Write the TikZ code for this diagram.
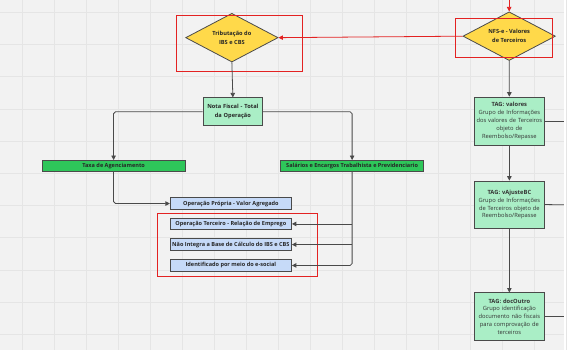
\documentclass[tikz,border=0pt]{standalone}
\usepackage{fontspec}
\setmainfont{Open Sans}
\usetikzlibrary{shapes.geometric,arrows.meta}
\definecolor{bgc}{HTML}{F2F2F2}
\definecolor{gridc}{HTML}{E5E5E5}
\definecolor{yel}{HTML}{FFD94A}
\definecolor{mint}{HTML}{AAEEC6}
\definecolor{grn}{HTML}{2EC65A}
\definecolor{blu}{HTML}{C6DAF8}
\definecolor{redc}{HTML}{E32222}
\definecolor{edgec}{HTML}{4A4A4A}
\begin{document}
\begin{tikzpicture}[x=1pt,y=-1pt,
  dec/.style={shape=diamond,draw=edgec,line width=0.8pt,fill=yel,inner sep=0pt,aspect=2,
    minimum width=93pt,minimum height=49pt,align=center,
    font=\fontsize{5.7}{9.3}\selectfont\bfseries,text=black!85},
  totbox/.style={draw=edgec,line width=0.8pt,fill=mint,inner sep=0pt,align=center,
    minimum width=60pt,minimum height=28pt,text width=58pt,
    font=\fontsize{5.7}{9}\selectfont\bfseries,text=black!85},
  tagbox/.style={draw=edgec,line width=0.8pt,fill=mint,inner sep=0pt,align=center,
    minimum width=71pt,text width=69pt,
    font=\fontsize{5.8}{8}\selectfont,text=black!80},
  catbox/.style={draw=edgec,line width=0.8pt,fill=grn,inner sep=0pt,
    minimum width=144pt,minimum height=11.3pt,
    font=\fontsize{5.6}{6}\selectfont\bfseries,text=black!85},
  itembox/.style={draw=edgec,line width=0.8pt,fill=blu,inner sep=0pt,
    minimum width=122pt,minimum height=11.5pt,
    font=\fontsize{5.6}{6}\selectfont\bfseries,text=black!85},
  conn/.style={draw=edgec,line width=0.8pt,-{Triangle[length=4.5pt,width=4.5pt]},rounded corners=2pt},
  redconn/.style={draw=redc,line width=0.8pt,-{Triangle[length=4.5pt,width=4.5pt]}},
  hilite/.style={draw=redc,line width=1pt}]

% background and grid
\fill[bgc] (0,0) rectangle (567,352);
\foreach \i in {0,...,17} {\draw[gridc,line width=0.6pt] ({22.5+32.2*\i},0) -- ({22.5+32.2*\i},352);}
\foreach \j in {0,...,10} {\draw[gridc,line width=0.6pt] (0,{12+32.4*\j}) -- (567,{12+32.4*\j});}

% nodes
\node[dec] (trib) at (233,37.5) {Tributação do\\IBS e CBS};
\node[dec] (nfse) at (512,36) {NFS-e - Valores\\de Terceiros};
\node[totbox] (nota) at (234,112) {Nota Fiscal - Total\\da Operação};
\node[catbox] (taxa) at (114,166.7) {Taxa de Agenciamento};
\node[catbox] (sal) at (354,166.7) {Salários e Encargos Trabalhista e Previdenciario};
\node[itembox] (opp) at (232,204.4) {Operação Própria - Valor Agregado};
\node[itembox] (opt) at (232,224.9) {Operação Terceiro - Relação de Emprego};
\node[itembox] (nao) at (232,245.7) {Não Integra a Base de Cálculo do IBS e CBS};
\node[itembox] (ident) at (232,266.7) {Identificado por meio do e-social};
\node[tagbox,minimum height=48.4pt] (tagv) at (512.2,121.5) {\textbf{TAG: valores}\\Grupo de Informações\\dos valores de Terceiros\\objeto de\\Reembolso/Repasse};
\node[tagbox,minimum height=47.3pt] (taga) at (512.2,205.4) {\textbf{TAG: vAjusteBC}\\Grupo de Informações\\de Terceiros objeto de\\Reembolso/Repasse};
\node[tagbox,minimum height=48pt] (tagd) at (512.2,318.3) {\textbf{TAG: docOutro}\\Grupo identificação\\documento não fiscais\\para comprovação de\\terceiros};

% red highlight frames
\draw[hilite] (177,15) rectangle (304,72);
\draw[hilite] (458,18) rectangle (555.5,57);
\draw[hilite] (158,214.7) rectangle (319.3,278);

% connectors
\coordinate (topin) at (512,0);
\draw[redconn] (topin) -- (nfse.north);
\draw[redconn] (nfse.west) -- (trib.east);
\draw[conn] (trib.south) -- (nota.north);
\draw[conn] (nota.west) -| (taxa.north);
\draw[conn] (nota.east) -| (sal.north);
\draw[conn] (taxa.south) |- (opp.west);
\draw[conn] (sal.south) |- (ident.east);
\draw[conn] (sal.south |- opt.east) -- (opt.east);
\draw[conn] (sal.south |- nao.east) -- (nao.east);
\draw[conn] (nfse.south) -- (tagv.north);
\draw[conn] (tagv.south) -- (taga.north);
\draw[conn] (taga.south) -- (tagd.north);
\coordinate (outv) at (567,121.5);
\coordinate (outa) at (567,205.7);
\coordinate (outd) at (567,318.3);
\draw[draw=edgec,line width=0.8pt] (tagv.east) -- (outv);
\draw[draw=edgec,line width=0.8pt] (taga.east) -- (outa);
\draw[draw=edgec,line width=0.8pt] (tagd.east) -- (outd);
\end{tikzpicture}
\end{document}
